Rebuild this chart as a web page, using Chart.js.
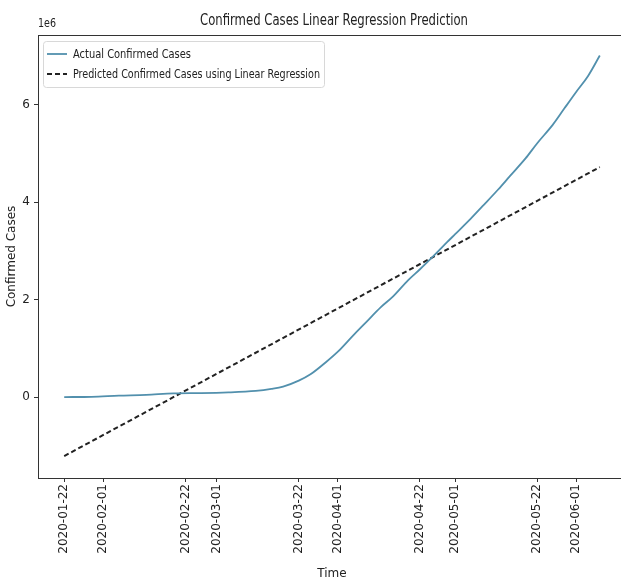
<!DOCTYPE html>
<html>
<head>
<meta charset="utf-8">
<script src="https://cdn.jsdelivr.net/npm/chart.js@4.4.1/dist/chart.umd.min.js"></script>
<style>
  html, body { margin: 0; padding: 0; background: #fff; overflow: hidden; }
  #wrap { width: 621px; height: 581px; overflow: hidden; }
</style>
</head>
<body>
<div id="wrap"><canvas id="chart" width="640" height="581"></canvas></div>
<script>
// global confirmed cases
const dates = ['2020-01-22','2020-01-29','2020-02-05','2020-02-12','2020-02-19','2020-02-26',
  '2020-03-04','2020-03-11','2020-03-15','2020-03-18','2020-03-22','2020-03-25','2020-03-29',
  '2020-04-01','2020-04-05','2020-04-08','2020-04-12','2020-04-15','2020-04-19','2020-04-22',
  '2020-04-26','2020-04-29','2020-05-01','2020-05-05','2020-05-08','2020-05-12','2020-05-15',
  '2020-05-19','2020-05-22','2020-05-26','2020-05-29','2020-06-01','2020-06-04','2020-06-07'];
const actualCases = [555, 6166, 28276, 45171, 75641, 81397,
  95120, 126000, 167000, 214000, 337000, 467000, 720000,
  932000, 1273000, 1518000, 1846000, 2056000, 2401000, 2623000,
  2938000, 3184000, 3343000, 3662000, 3917000, 4260000, 4534000,
  4897000, 5210000, 5590000, 5930000, 6266000, 6590000, 7010000];

// regression line endpoints
const predDates = ['2020-01-22', '2020-06-07'];
const predictedCases = [-1210000, 4720000];

const tickDates = ['2020-01-22','2020-02-01','2020-02-22','2020-03-01','2020-03-22',
  '2020-04-01','2020-04-22','2020-05-01','2020-05-22','2020-06-01'];
const yTicks = [0, 2e6, 4e6, 6e6];

const day0 = Date.parse(dates[0]);
const toDay = d => (Date.parse(d) - day0) / 86400000;

const font = '"DejaVu Sans", sans-serif';

const decorations = {
  id: 'decorations',
  afterDraw(chart) {
    const ctx = chart.ctx;
    const a = chart.chartArea;
    ctx.save();
    // frame
    ctx.strokeStyle = '#333';
    ctx.lineWidth = 1;
    ctx.strokeRect(a.left + 0.5, a.top + 0.5, a.right - a.left, a.bottom - a.top);

    // title
    ctx.fillStyle = '#222';
    ctx.textAlign = 'center';
    ctx.textBaseline = 'alphabetic';
    ctx.font = '15px ' + font;
    ctx.fillText('Confirmed Cases Linear Regression Prediction', 334, 25, 268);

    // offset text
    ctx.textAlign = 'left';
    ctx.font = '12px ' + font;
    ctx.fillText('1e6', 38, 27, 18);

    // legend inside plot
    const bx = a.left + 5, by = a.top + 6, bw = 281, bh = 46;
    ctx.fillStyle = 'rgba(255,255,255,0.9)';
    ctx.strokeStyle = '#d8d8d8';
    ctx.beginPath();
    ctx.roundRect(bx + 0.5, by + 0.5, bw, bh, 3);
    ctx.fill();
    ctx.stroke();

    const items = chart.data.datasets;
    items.forEach((ds, i) => {
      const yy = by + 13 + i * 20;
      ctx.strokeStyle = ds.borderColor;
      ctx.lineWidth = ds.borderWidth;
      ctx.setLineDash(ds.borderDash || []);
      ctx.beginPath();
      ctx.moveTo(bx + 4, yy);
      ctx.lineTo(bx + 24, yy);
      ctx.stroke();
      ctx.setLineDash([]);
      ctx.fillStyle = '#222';
      ctx.font = '12px ' + font;
      ctx.textBaseline = 'middle';
      const maxW = i === 0 ? 118 : 247;
      ctx.fillText(ds.label, bx + 30, yy + 1, maxW);
    });
    ctx.restore();
  }
};

new Chart(document.getElementById('chart'), {
  type: 'line',
  data: {
    datasets: [{
      label: 'Actual Confirmed Cases',
      data: dates.map((d, i) => ({ x: toDay(d), y: actualCases[i] })),
      borderColor: '#5290ad',
      borderWidth: 1.8,
      pointRadius: 0,
      cubicInterpolationMode: 'monotone',
      fill: false
    }, {
      label: 'Predicted Confirmed Cases using Linear Regression',
      data: predDates.map((d, i) => ({ x: toDay(d), y: predictedCases[i] })),
      borderColor: '#222',
      borderWidth: 2,
      borderDash: [5, 3],
      pointRadius: 0,
      fill: false
    }]
  },
  options: {
    responsive: false,
    animation: false,
    layout: { padding: { left: 0, top: 35, right: 14, bottom: 0 } },
    plugins: {
      legend: { display: false },
      title: { display: false },
      tooltip: { enabled: false }
    },
    scales: {
      x: {
        type: 'linear',
        min: -6.7,
        max: 143.7,
        afterBuildTicks: s => { s.ticks = tickDates.map(d => ({ value: toDay(d) })); },
        afterFit: s => { s.height = 103; },
        grid: { display: true, drawOnChartArea: false, drawTicks: true, tickLength: 4, color: '#333' },
        border: { display: true, color: '#333' },
        ticks: {
          minRotation: 90, maxRotation: 90, autoSkip: false, padding: 2,
          color: '#222', font: { family: font, size: 12 },
          callback: (v) => tickDates.find(d => toDay(d) === v) || ''
        },
        title: { display: true, text: 'Time', color: '#222', font: { family: font, size: 12 }, padding: { top: 0, bottom: 0 } }
      },
      y: {
        min: -1660000,
        max: 7430000,
        afterBuildTicks: s => { s.ticks = yTicks.map(v => ({ value: v })); },
        afterFit: s => { s.width = 38; },
        grid: { display: true, drawOnChartArea: false, drawTicks: true, tickLength: 4, color: '#333' },
        border: { display: true, color: '#333' },
        ticks: {
          padding: 4, color: '#222', font: { family: font, size: 12 },
          callback: v => String(v / 1e6)
        },
        title: { display: true, text: 'Confirmed Cases', color: '#222', font: { family: font, size: 12 }, padding: { top: 5, bottom: 0 } }
      }
    }
  },
  plugins: [decorations]
});
</script>
</body>
</html>
